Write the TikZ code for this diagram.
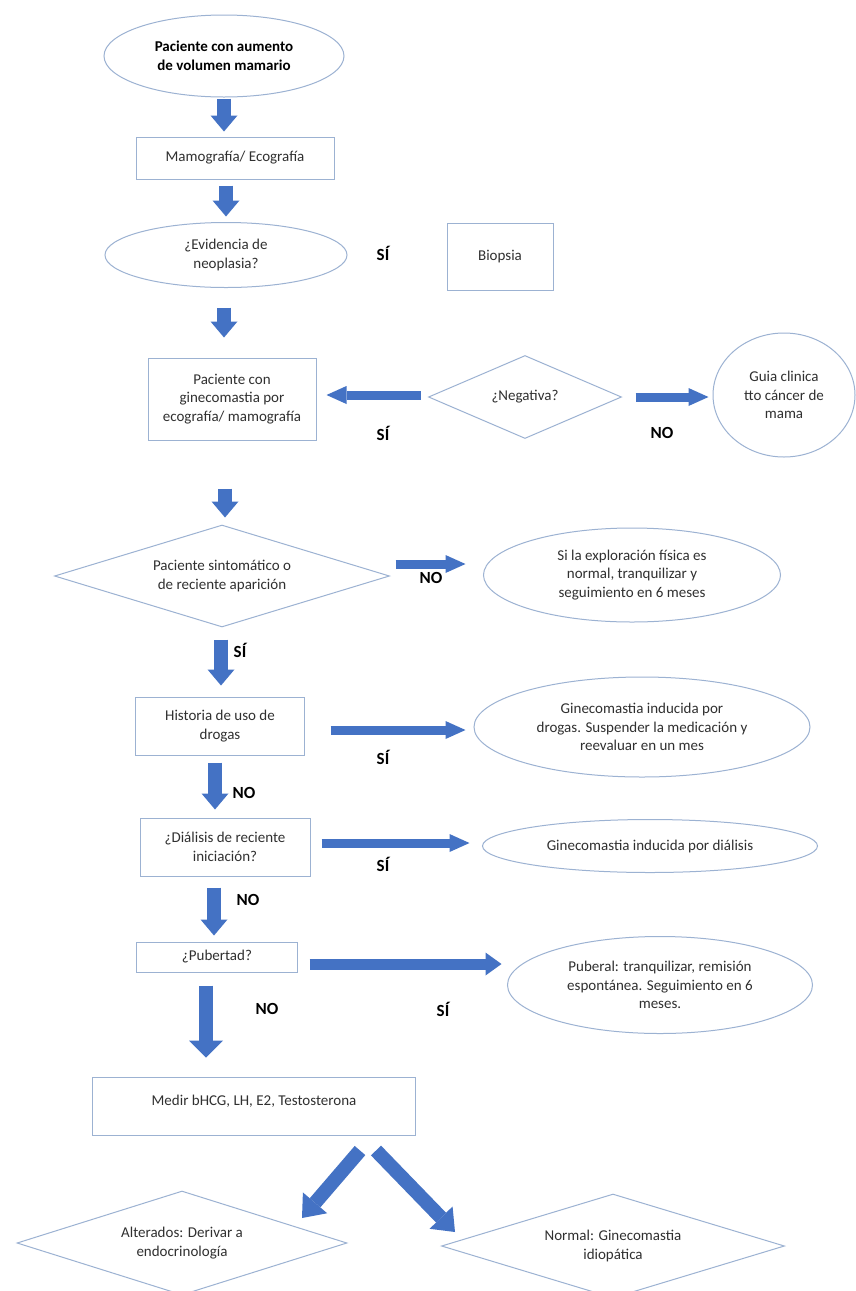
\documentclass[tikz,border=0pt]{standalone}
\usepackage{fontspec}
\setmainfont{Carlito}
\usetikzlibrary{shapes.geometric,arrows.meta,calc}
\definecolor{edgec}{HTML}{9CB2D2}
\definecolor{barr}{HTML}{4472C4}
\definecolor{txt}{HTML}{303030}
\begin{document}
\begin{tikzpicture}[x=1pt,y=-1pt,
  every node/.style={font=\fontsize{15}{18.5}\selectfont, text=txt, align=center, inner sep=0pt},
  box/.style={draw=edgec, line width=1pt, rectangle},
  oval/.style={draw=edgec, line width=1pt, ellipse},
  dia/.style={draw=edgec, line width=1pt, diamond},
  lab/.style={font=\fontsize{17}{20}\selectfont\bfseries, text=black},
  varr/.style={draw=barr, line width=14pt, -{Triangle[width=27pt,length=16pt,line width=0pt]}},
  harr/.style={draw=barr, line width=9pt, -{Triangle[width=18pt,length=20pt,line width=0pt]}},
  parr/.style={draw=barr, line width=11pt, -{Triangle[width=23pt,length=16pt,line width=0pt]}},
  bigarr/.style={draw=barr, line width=14pt, -{Triangle[width=34pt,length=17pt,line width=0pt]}},
  darr/.style={draw=barr, line width=14pt, -{Triangle[width=32pt,length=20pt,line width=0pt]}},
]
\fill[white] (0,0) rectangle (855,1291);
\useasboundingbox (0,0) rectangle (855,1291);

% nodes
\node[oval, minimum width=240pt, minimum height=82pt, font=\fontsize{15}{18.5}\selectfont\bfseries, text=black] (e1) at (224,56) {Paciente con aumento\\de volumen mamario};
\node[box, minimum width=198pt, minimum height=42pt] (mam) at (235,158) {Mamografía/ Ecografía};
\node[oval, minimum width=242pt, minimum height=65pt] (e2) at (226,255) {¿Evidencia de\\neoplasia?};
\node[box, minimum width=106pt, minimum height=67pt] (bio) at (500,257) {Biopsia};
\node[box, minimum width=168pt, minimum height=82pt] (gin) at (232,399) {Paciente con\\ginecomastia por\\ecografía/ mamografía};
\node[dia, minimum width=193pt, minimum height=83pt, shape aspect=2.3] (neg) at (525,397) {¿Negativa?};
\node[oval, minimum width=142pt, minimum height=124pt] (guia) at (784,395) {Guia clinica\\tto cáncer de\\mama};
\node[dia, minimum width=335pt, minimum height=102pt, shape aspect=3.3] (sint) at (222,576) {Paciente sintomático o\\de reciente aparición};
\node[oval, minimum width=297pt, minimum height=94pt] (expl) at (632,575) {Si la exploración física es\\normal, tranquilizar y\\seguimiento en 6 meses};
\node[box, minimum width=169pt, minimum height=58pt] (hist) at (220,726) {Historia de uso de\\drogas};
\node[oval, minimum width=336pt, minimum height=100pt] (drog) at (642,727) {Ginecomastia inducida por\\drogas. Suspender la medicación y\\reevaluar en un mes};
\node[box, minimum width=170pt, minimum height=58pt] (dial) at (225,847) {¿Diálisis de reciente\\iniciación?};
\node[oval, minimum width=335pt, minimum height=53pt] (edial) at (650,846) {Ginecomastia inducida por diálisis};
\node[box, minimum width=161pt, minimum height=30pt] (pub) at (217,957) {¿Pubertad?};
\node[oval, minimum width=305pt, minimum height=97pt] (epub) at (660,985) {Puberal: tranquilizar, remisión\\espontánea. Seguimiento en 6\\meses.};
\node[box, minimum width=323pt, minimum height=58pt, text height=11pt, text depth=13pt] (med) at (254,1106) {Medir bHCG, LH, E2, Testosterona};
\node[dia, minimum width=330pt, minimum height=104pt, shape aspect=3.2] (alt) at (182,1243) {Alterados: Derivar a\\endocrinología};
\node[dia, minimum width=343pt, minimum height=104pt, shape aspect=3.3] (norm) at (613,1246) {Normal: Ginecomastia\\idiopática};

% labels
\node[lab] (l1) at (383,253) {SÍ};
\node[lab] (l2) at (383,433) {SÍ};
\node[lab] (l3) at (662,433) {NO};
\node[lab] (l4) at (431,578) {NO};
\node[lab] (l5) at (240,650) {SÍ};
\node[lab] (l6) at (383,757) {SÍ};
\node[lab] (l7) at (244,793) {NO};
\node[lab] (l8) at (383,864) {SÍ};
\node[lab] (l9) at (248,900) {NO};
\node[lab] (l10) at (267,1009) {NO};
\node[lab] (l11) at (443,1009) {SÍ};

% vertical arrows
\draw[varr] ($(e1.south)+(0,1)$) -- ($(e1.south |- mam.north)+(0,-5)$);
\draw[varr] ($(e2.north |- mam.south)+(0,6)$) -- ($(e2.north)+(0,-5.5)$);
\draw[varr] ($(e2.south)+(-2,19.5)$) -- ($(e2.south |- gin.north)+(-2,-20)$);
\draw[varr] ($(sint.north |- gin.south)+(3,48)$) -- ($(sint.north)+(3,-7)$);
\draw[varr] ($(sint.south)+(-1,12)$) -- ($(hist.north)+(1,-11)$);
\draw[varr] ($(hist.south)+(-5,7)$) -- ($(hist.south |- dial.north)+(-5,-8)$);
\draw[varr] ($(pub.north |- dial.south)+(-3,11)$) -- ($(pub.north)+(-3,-6)$);
\draw[bigarr] ($(pub.south)+(-11,13)$) -- ($(pub.south |- med.north)+(-11,-19)$);

% horizontal arrows
\draw[harr] ($(neg.west)+(-7.5,-2)$) -- ($(gin.east |- neg.west)+(10,-2)$);
\draw[harr] ($(neg.east)+(13.5,0)$) -- ($(guia.west |- neg.east)+(-4,0)$);
\draw[harr] ($(sint.east)+(5.5,-12)$) -- ($(expl.west |- sint.east)+(-17.5,-12)$);
\draw[harr] ($(hist.east)+(25.5,4)$) -- ($(drog.west |- hist.east)+(-8,4)$);
\draw[harr] ($(dial.east)+(11,-4)$) -- ($(edial.west |- dial.east)+(-12.5,-4)$);
\draw[parr] ($(pub.east)+(11.5,7)$) -- ($(epub.west |- pub.east)+(-5.5,7)$);

% diagonal arrows
\draw[darr] ($(med.south)+(106,15)$) -- ($(alt.center)+(120,-25)$);
\draw[darr] ($(med.south)+(122,15)$) -- ($(norm.center)+(-158,-14)$);
\end{tikzpicture}
\end{document}
